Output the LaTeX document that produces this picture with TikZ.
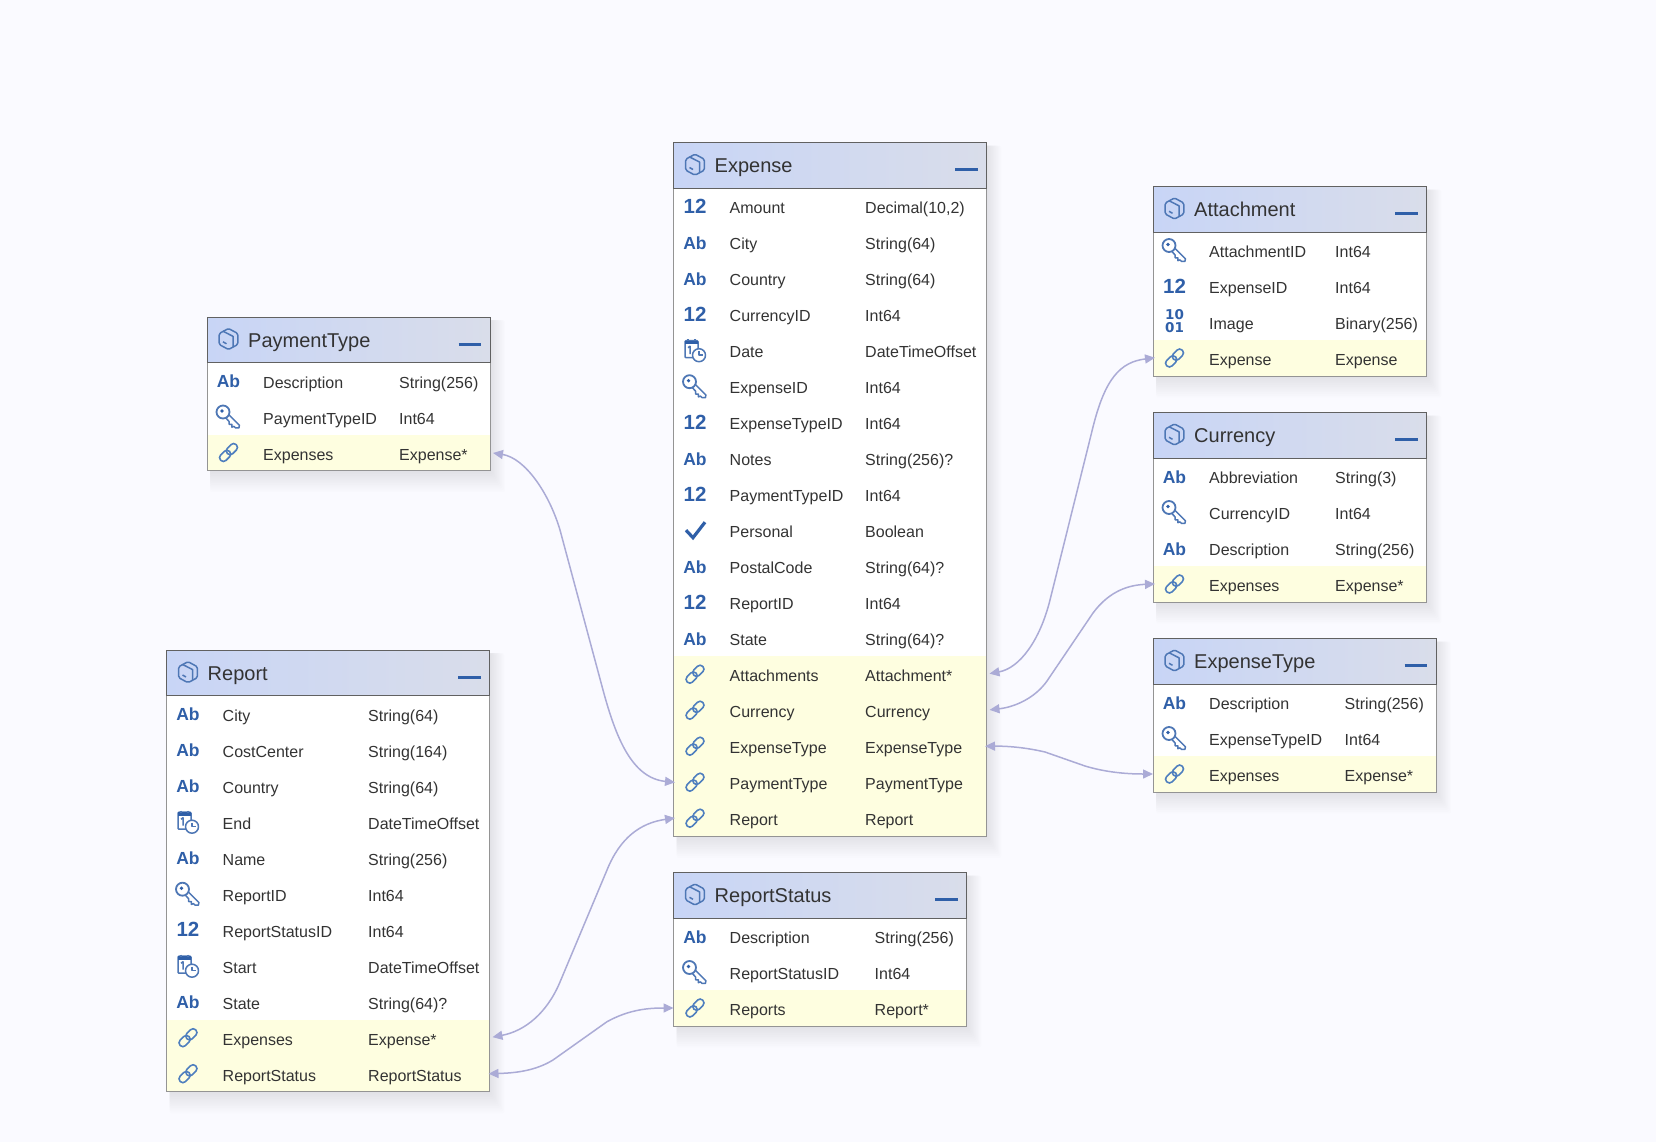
\documentclass[tikz,border=0pt]{standalone}
\usepackage{fontspec}
\setmainfont{Liberation Sans}
\usepackage{xcolor}
\usetikzlibrary{arrows.meta}

\definecolor{pagetint}{HTML}{FAFAFF}
\definecolor{headleft}{HTML}{C8D5F6}
\definecolor{headright}{HTML}{D9DDEA}
\definecolor{linkyellow}{HTML}{FEFEE0}
\definecolor{iconblue}{HTML}{2F5FA8}
\definecolor{chainblue}{HTML}{4F7FBE}
\definecolor{linklilac}{HTML}{ABABD6}
\definecolor{inktext}{HTML}{333333}

\tikzset{
	rowbox/.style={rectangle, inner sep=0pt, outer sep=0pt, minimum height=36pt, anchor=north west},
	headbox/.style={rectangle, inner sep=0pt, outer sep=0pt, minimum height=45.5pt, anchor=north west, left color=headleft, right color=headright},
	rowtext/.style={anchor=base west, inner sep=0pt, text=inktext, font=\fontsize{16}{18}\selectfont},
	headtext/.style={anchor=base west, inner sep=0pt, text=inktext, font=\fontsize{20}{24}\selectfont},
	boxline/.style={draw=black!42, line width=1pt},
	headline/.style={draw=black!62, line width=1pt},
	minusbar/.style={draw=iconblue, line width=3pt},
	iconline/.style={draw=iconblue!85!white, line width=1.5pt, line join=round},
	chainline/.style={draw=chainblue, line width=1.6pt},
	tabletalk/.style={line width=1.5pt, draw=linklilac, {Triangle[length=10pt,width=9pt,fill=linklilac]}-{Triangle[length=10pt,width=9pt,fill=linklilac]}},
	textglyph/.style={anchor=base, inner sep=0pt, text=iconblue, font=\bfseries\fontsize{#1}{#1}\selectfont},
	pics/abicon/.style={code={\node[textglyph=17.5] (-txt) at (0,7) {Ab};}},
	pics/numicon/.style={code={\node[textglyph=20.5] (-txt) at (0,7) {12};}},
	pics/binicon/.style={code={
		\node[textglyph=13, font=\fontspec{DejaVu Sans Bold}\fontsize{13.5}{14}\selectfont] (-top) at (0,-3) {10};
		\node[textglyph=13, font=\fontspec{DejaVu Sans Bold}\fontsize{13.5}{14}\selectfont] (-low) at (0,10) {01};
	}},
	pics/keyicon/.style={code={
		\draw[iconline, line width=1.8pt] (-5.5,-4.5) circle (6.5);
		\fill[iconblue] (-6.5,-5.5) circle (1.8);
		\draw[iconline, shift={(-5.5,-4.5)}, rotate=-45] (6.5,-2.2) -- (21,-2.2) -- (22.5,0) -- (20,2.4) -- (18,2.4) -- (17,4.4) -- (15,2.4) -- (13,4.4) -- (11,2.4) -- (6.5,2.2);
	}},
	pics/calicon/.style={code={
		\draw[iconline, rounded corners=1pt] (-10,-9.5) rectangle (3,7.5);
		\fill[iconblue] (-10,-9.5) rectangle (3,-6);
		\draw[iconline] (-7,-11) -- (-7,-9) (0,-11) -- (0,-9);
		\draw[iconline] (-7,-2.5) -- (-5,-4) -- (-5,4);
		\draw[iconline, fill=white] (4,5) circle (6.5);
		\draw[iconline] (4,1) -- (4,5) -- (8,5);
	}},
	pics/tickicon/.style={code={
		\draw[draw=iconblue, line width=3.2pt] (-9,0) -- (-2,7.5) -- (10,-8);
	}},
	pics/lnkicon/.style={code={
		\draw[chainline, rotate=45, rounded corners=3.6pt] (-11,-3.8) rectangle (1.5,3.8);
		\draw[chainline, rotate=45, rounded corners=3.6pt] (-1.5,-3.8) rectangle (11,3.8);
	}},
	pics/boxicon/.style={code={
		\draw[iconline, rounded corners=1.5pt] (0,-10.5) -- (9.3,-5.5) -- (9.3,5.5) -- (0,10.5) -- (-9.3,5.5) -- (-9.3,-5.5) -- cycle;
		\draw[iconline] (-5.5,-7.8) -- (4.6,-2.6) -- (4.6,7.8);
		\draw[iconline] (-5.5,2.8) -- (-2,4.8);
	}},
}

\def\lnkword{lnkicon}

% name, left, top, width, type column, rows, list of icon/field/type
\newcommand{\entity}[7]{
	\pgfmathsetmacro\boxhigh{45.5+36*#6}
	\foreach \s in {0,...,12}{
		\fill[black, fill opacity=0.0085, rounded corners=2pt] ({#2+3},{#3+3}) rectangle ({#2+#4+1.25*\s},{#3+\boxhigh+1.8*\s});
	}
	\node[headbox, minimum width=#4pt] (#1-head) at (#2,#3) {};
	\foreach \icon/\field/\kind [count=\i] in {#7}{
		\pgfmathsetmacro\rowtop{#3+45.5+36*(\i-1)}
		\pgfmathsetmacro\rowmid{\rowtop+18}
		\pgfmathsetmacro\rowbase{\rowmid+7.5}
		\pgfmathsetmacro\iconx{#2+21.5}
		\pgfmathsetmacro\fieldx{#2+56}
		\pgfmathsetmacro\kindx{#2+#5}
		\def\tint{white}
		\ifx\icon\lnkword\def\tint{linkyellow}\fi
		\node[rowbox, fill=\tint, minimum width=#4pt] (#1-r\i) at (#2,\rowtop) {};
		\edef\rowpic{\noexpand\pic (#1-i\i) at (\iconx,\rowmid) {\icon};}
		\rowpic
		\node[rowtext] (#1-f\i) at (\fieldx,\rowbase) {\field};
		\node[rowtext] (#1-k\i) at (\kindx,\rowbase) {\kind};
	}
	\draw[boxline] (#1-head.north west) rectangle (#1-r#6.south east);
	\draw[headline] (#1-head.south west) -- (#1-head.north west) -- (#1-head.north east) -- (#1-head.south east) -- cycle;
	\pic (#1-cube) at ({#2+21.5},{#3+22}) {boxicon};
	\node[headtext] (#1-title) at ({#2+41},{#3+30}) {#1};
	\draw[minusbar] ([xshift=-31.5pt,yshift=-4.5pt]#1-head.east) -- ([xshift=-9pt,yshift=-4.5pt]#1-head.east);
}

\begin{document}
\begin{tikzpicture}[x=1pt, y=-1pt]
	\fill[pagetint] (0,0) rectangle (1656,1142);
	\useasboundingbox (0,0) rectangle (1656,1142);

	\entity{Expense}{673.5}{142.7}{313}{191.5}{18}{
		numicon/Amount/{Decimal(10,2)}, abicon/City/{String(64)}, abicon/Country/{String(64)},
		numicon/CurrencyID/Int64, calicon/Date/DateTimeOffset, keyicon/ExpenseID/Int64,
		numicon/ExpenseTypeID/Int64, abicon/Notes/{String(256)?}, numicon/PaymentTypeID/Int64,
		tickicon/Personal/Boolean, abicon/PostalCode/{String(64)?}, numicon/ReportID/Int64,
		abicon/State/{String(64)?}, lnkicon/Attachments/Attachment*, lnkicon/Currency/Currency,
		lnkicon/ExpenseType/ExpenseType, lnkicon/PaymentType/PaymentType, lnkicon/Report/Report}
	\entity{Attachment}{1153}{186.5}{273.5}{182}{4}{
		keyicon/AttachmentID/Int64, numicon/ExpenseID/Int64, binicon/Image/{Binary(256)}, lnkicon/Expense/Expense}
	\entity{Currency}{1153}{412.5}{273.5}{182}{4}{
		abicon/Abbreviation/{String(3)}, keyicon/CurrencyID/Int64, abicon/Description/{String(256)}, lnkicon/Expenses/Expense*}
	\entity{ExpenseType}{1153}{638.5}{283}{191.5}{3}{
		abicon/Description/{String(256)}, keyicon/ExpenseTypeID/Int64, lnkicon/Expenses/Expense*}
	\entity{PaymentType}{207}{317}{283}{192}{3}{
		abicon/Description/{String(256)}, keyicon/PaymentTypeID/Int64, lnkicon/Expenses/Expense*}
	\entity{Report}{166.5}{650.2}{323}{201.5}{11}{
		abicon/City/{String(64)}, abicon/CostCenter/{String(164)}, abicon/Country/{String(64)},
		calicon/End/DateTimeOffset, abicon/Name/{String(256)}, keyicon/ReportID/Int64,
		numicon/ReportStatusID/Int64, calicon/Start/DateTimeOffset, abicon/State/{String(64)?},
		lnkicon/Expenses/Expense*, lnkicon/ReportStatus/ReportStatus}
	\entity{ReportStatus}{673.5}{872.5}{293}{201}{3}{
		abicon/Description/{String(256)}, keyicon/ReportStatusID/Int64, lnkicon/Reports/Report*}

	\draw[tabletalk, shorten <=3pt, shorten >=-1.5pt] (PaymentType-r3.east) .. controls (525,458) and (549,493) .. (560,530) -- (603,690) .. controls (616,738) and (632,778) .. (Expense-r17.west);
	\draw[tabletalk, shorten <=3pt, shorten >=-1.5pt] (Report-r10.east) .. controls (525,1031) and (547,1013) .. (560,982) -- (607,870) .. controls (620,838) and (640,823) .. (Expense-r18.west);
	\draw[tabletalk, shorten <=-1pt] (Report-r11.east) .. controls (515,1073) and (535,1071) .. (553,1060) -- (607,1021.7) .. controls (630,1009) and (650,1008) .. (ReportStatus-r3.west);
	\draw[tabletalk, shorten <=3pt, shorten >=-2pt] (Expense-r14.east) .. controls (1020,668) and (1040,640) .. (1050,600) -- (1093,427) .. controls (1105,379) and (1120,362) .. (Attachment-r4.west);
	\draw[tabletalk, shorten <=3pt, shorten >=-2pt] (Expense-r15.east) .. controls (1015,707) and (1035,698) .. (1047,681) -- (1093,613) .. controls (1110,590) and (1130,585) .. (Currency-r4.west);
	\draw[tabletalk, shorten <=-1.5pt] (Expense-r16.east) .. controls (1010,746) and (1028,748) .. (1045,752) -- (1085,766) .. controls (1105,772) and (1125,774) .. (ExpenseType-r3.west);
\end{tikzpicture}
\end{document}
